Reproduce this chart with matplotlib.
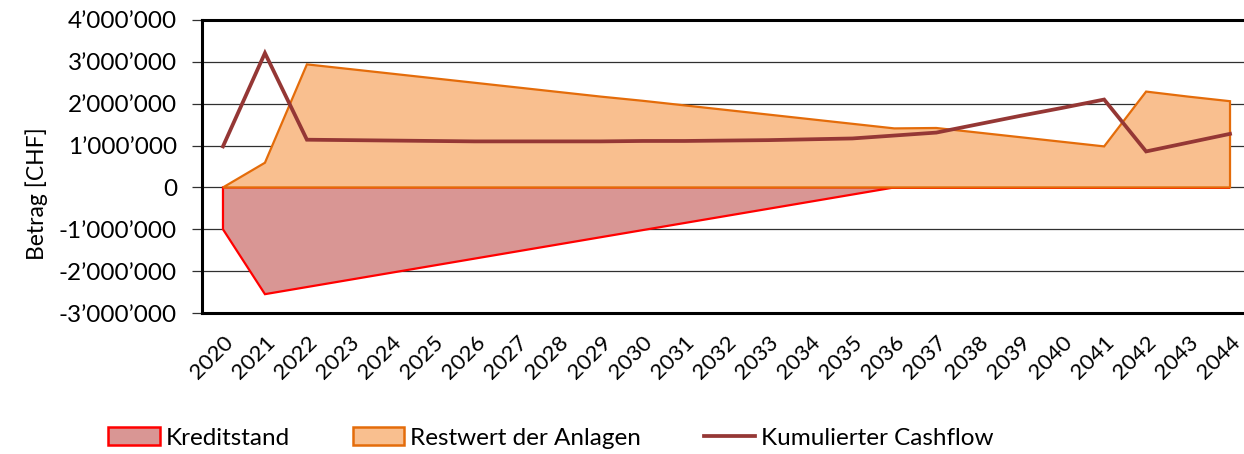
import numpy as np
import matplotlib.pyplot as plt
import matplotlib.ticker as mticker
from matplotlib.patches import Patch
from matplotlib.lines import Line2D

plt.rcParams['font.family'] = ['Lato', 'DejaVu Sans']

# Data (values in CHF)
years = list(range(2020, 2045))
kreditstand = [-1.00, -2.55, -2.38, -2.21, -2.04, -1.87, -1.70, -1.53, -1.36, -1.19,
               -1.02, -0.85, -0.68, -0.51, -0.34, -0.17, 0.00, 0.00, 0.00, 0.00,
               0.00, 0.00, 0.00, 0.00, 0.00]
restwert = [0.00, 0.59, 2.94, 2.83, 2.72, 2.61, 2.50, 2.39, 2.28, 2.17,
            2.07, 1.96, 1.85, 1.74, 1.63, 1.52, 1.41, 1.42, 1.31, 1.20,
            1.09, 0.98, 2.29, 2.17, 2.06]
cashflow = [0.98, 3.21, 1.14, 1.13, 1.12, 1.11, 1.10, 1.10, 1.10, 1.10,
            1.11, 1.11, 1.12, 1.13, 1.15, 1.17, 1.24, 1.31, 1.51, 1.71,
            1.90, 2.10, 0.86, 1.07, 1.28]

kreditstand = np.array(kreditstand) * 1e6
restwert = np.array(restwert) * 1e6
cashflow = np.array(cashflow) * 1e6

COL_KREDIT_FILL = '#D99694'
COL_KREDIT_EDGE = '#FF0000'
COL_REST_FILL = '#F9BF8F'
COL_REST_EDGE = '#E46C0A'
COL_CASH = '#953735'

fig = plt.figure(figsize=(12.44, 4.54), dpi=100)
ax = fig.add_axes([202 / 1244, 1 - 313 / 454, 1049 / 1244, 293 / 454])

x = np.arange(len(years))

# area polygons closed down to zero, like Excel area charts
def area(values, fill, edge, lw):
    xs = np.concatenate([[x[0]], x, [x[-1]]])
    ys = np.concatenate([[0], values, [0]])
    ax.fill(xs, ys, facecolor=fill, edgecolor=edge, linewidth=lw, zorder=2)

area(kreditstand, COL_KREDIT_FILL, COL_KREDIT_EDGE, 1.6)
area(restwert, COL_REST_FILL, COL_REST_EDGE, 1.6)
ax.plot(x, cashflow, color=COL_CASH, linewidth=2.7, zorder=4, solid_joinstyle='miter')

ax.set_xlim(-0.5, len(years) - 0.5)
ax.set_ylim(-3e6, 4e6)
ax.yaxis.set_major_locator(mticker.MultipleLocator(1e6))
ax.yaxis.set_major_formatter(mticker.FuncFormatter(
    lambda v, p: '0' if v == 0 else f'{v:,.0f}'.replace(',', '\u2019')))
ax.grid(axis='y', color='#303030', linewidth=0.9, zorder=1)
ax.set_axisbelow(True)

ax.set_xticks(x)
ax.set_xticklabels([str(y) for y in years], rotation=45, ha='right',
                   rotation_mode='anchor', fontsize=16)
ax.tick_params(axis='x', length=0, pad=14)
ax.tick_params(axis='y', length=7, width=0.9, color='#303030', labelsize=17.5, pad=11)

for side in ['top', 'bottom', 'left']:
    ax.spines[side].set_linewidth(2.2)
    ax.spines[side].set_color('black')
ax.spines['right'].set_visible(False)

ax.set_ylabel('Betrag [CHF]', fontsize=16.5)
ax.yaxis.set_label_coords((48 - 202) / 1049, (313 - 194) / 293)

handles = [
    Patch(facecolor=COL_KREDIT_FILL, edgecolor=COL_KREDIT_EDGE, linewidth=1.8),
    Patch(facecolor=COL_REST_FILL, edgecolor=COL_REST_EDGE, linewidth=1.8),
    Line2D([0], [0], color=COL_CASH, linewidth=2.7),
]
labels = ['Kreditstand', 'Restwert der Anlagen', 'Kumulierter Cashflow']
fig.legend(handles, labels, loc='center', bbox_to_anchor=(0.443, 1 - 438 / 454),
           ncol=3, frameon=False, fontsize=17.5, handlelength=2.1, handleheight=0.72,
           handletextpad=0.25, columnspacing=2.6)

fig.savefig('out.png', dpi=100)
